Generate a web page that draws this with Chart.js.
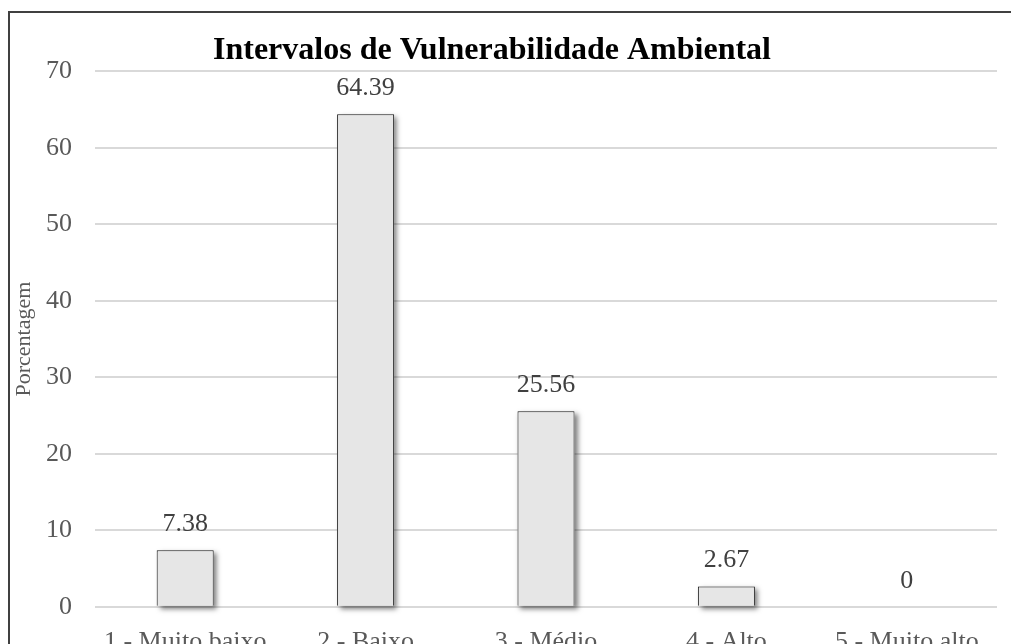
<!DOCTYPE html>
<html>
<head>
<meta charset="utf-8">
<script src="https://cdn.jsdelivr.net/npm/chart.js@4"></script>
<style>
  html, body { margin: 0; padding: 0; background: #fff; overflow: hidden; width: 1011px; height: 644px; }
  #wrap { position: absolute; left: -13px; top: 0; width: 1010px; height: 700px; }
  #frame { position: absolute; left: 8px; top: 11px; width: 1100px; height: 700px;
           border-left: 2px solid #404040; border-top: 2px solid #404040; pointer-events: none; }
</style>
</head>
<body>
<div id="wrap"><canvas id="vulnChart" width="1010" height="700"></canvas></div>
<div id="frame"></div>
<script>
const categories = ['1 - Muito baixo', '2 - Baixo', '3 - Médio', '4 - Alto', '5 - Muito alto'];
const percentages = [7.38, 64.39, 25.56, 2.67, 0];
const yTicks = [0, 10, 20, 30, 40, 50, 60, 70];

const serif = '"Liberation Serif", "Times New Roman", serif';

// soft shadow behind the bars + value labels on top
const barExtras = {
  id: 'barExtras',
  beforeDatasetsDraw(chart) {
    const ctx = chart.ctx;
    ctx.save();
    ctx.shadowColor = 'rgba(0,0,0,0.5)';
    ctx.shadowBlur = 5;
    ctx.shadowOffsetX = 3;
    ctx.shadowOffsetY = 3;
    ctx.fillStyle = '#e6e6e6';
    chart.getDatasetMeta(0).data.forEach(bar => {
      const p = bar.getProps(['x', 'y', 'base', 'width'], true);
      const h = p.base - p.y;
      if (h > 0.5) ctx.fillRect(p.x - p.width / 2, p.y, p.width, h);
    });
    ctx.restore();
  },
  afterDatasetsDraw(chart) {
    const ctx = chart.ctx;
    ctx.save();
    ctx.font = '26px ' + serif;
    ctx.fillStyle = '#404040';
    ctx.textAlign = 'center';
    ctx.textBaseline = 'middle';
    chart.getDatasetMeta(0).data.forEach((bar, i) => {
      ctx.fillText(String(percentages[i]), bar.x, bar.y - 26);
    });
    ctx.restore();
  }
};

const ctx = document.getElementById('vulnChart').getContext('2d');
new Chart(ctx, {
  type: 'bar',
  data: {
    labels: categories,
    datasets: [{
      data: percentages,
      backgroundColor: '#e6e6e6',
      borderColor: '#1f1f1f',
      borderWidth: 1,
      barPercentage: 0.316,
      categoryPercentage: 1
    }]
  },
  options: {
    responsive: false,
    animation: false,
    layout: { padding: { top: 0, right: 0, bottom: 30, left: 0 } },
    plugins: {
      legend: { display: false },
      tooltip: { enabled: false },
      title: {
        display: true,
        text: 'Intervalos de Vulnerabilidade Ambiental',
        color: '#000',
        font: { family: serif, size: 32, weight: 'bold' },
        padding: { top: 32, bottom: 1 }
      }
    },
    scales: {
      x: {
        grid: { display: false },
        border: { display: false },
        ticks: {
          color: '#595959',
          font: { family: serif, size: 26 },
          padding: 12,
          maxRotation: 0,
          autoSkip: false
        }
      },
      y: {
        min: 0,
        max: 70,
        afterBuildTicks: axis => { axis.ticks = yTicks.map(v => ({ value: v })); },
        afterFit: axis => { axis.width = 108; },
        grid: { color: '#d9d9d9', lineWidth: 2, drawTicks: false },
        border: { display: false },
        ticks: {
          color: '#595959',
          font: { family: serif, size: 26 },
          padding: 23
        },
        title: {
          display: true,
          text: 'Porcentagem',
          color: '#595959',
          font: { family: serif, size: 22 },
          padding: { top: 24, bottom: 0 }
        }
      }
    }
  },
  plugins: [barExtras]
});
</script>
</body>
</html>
